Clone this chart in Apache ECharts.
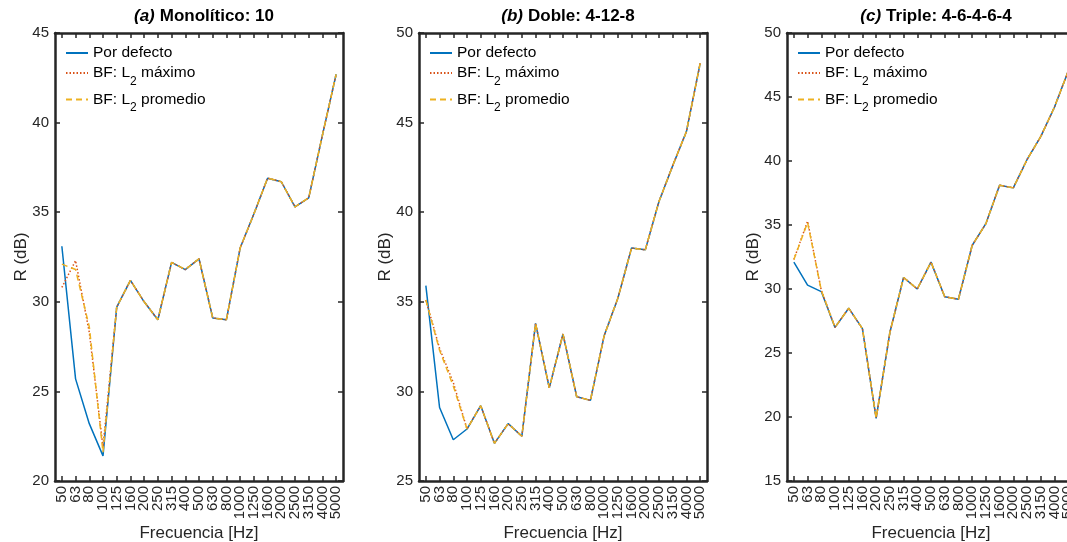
<!DOCTYPE html>
<html><head><meta charset="utf-8">
<script src="https://cdn.jsdelivr.net/npm/echarts@6/dist/echarts.min.js"></script>
<style>html,body{margin:0;padding:0;background:#fff}#c{width:1067px;height:542px}</style>
</head><body><div id="c"></div>
<script>
// ---- data ----
const freqLabels = ['50','63','80','100','125','160','200','250','315','400','500','630','800','1000','1250','1600','2000','2500','3150','4000','5000'];
const seriesNames = ['Por defecto', 'BF: L2 máximo', 'BF: L2 promedio'];

const monoDefecto = [33.1, 25.7, 23.2, 21.4, 29.7, 31.2, 30.0, 29.0, 32.2, 31.8, 32.4, 29.1, 29.0, 33.0, 34.9, 36.9, 36.7, 35.3, 35.8, 39.3, 42.7];
const monoMaximo  = [30.8, 32.3, 28.3, 21.9, 29.7, 31.2, 30.0, 29.0, 32.2, 31.8, 32.4, 29.1, 29.0, 33.0, 34.9, 36.9, 36.7, 35.3, 35.8, 39.3, 42.7];
const monoPromedio= [32.1, 31.8, 28.6, 21.6, 29.7, 31.2, 30.0, 29.0, 32.2, 31.8, 32.4, 29.1, 29.0, 33.0, 34.9, 36.9, 36.7, 35.3, 35.8, 39.3, 42.7];

const dobleDefecto = [35.9, 29.1, 27.3, 27.9, 29.2, 27.1, 28.2, 27.5, 33.8, 30.2, 33.2, 29.7, 29.5, 33.1, 35.2, 38.0, 37.9, 40.6, 42.6, 44.5, 48.3];
const dobleMaximo  = [35.1, 32.4, 30.5, 27.9, 29.2, 27.1, 28.2, 27.5, 33.8, 30.2, 33.2, 29.7, 29.5, 33.1, 35.2, 38.0, 37.9, 40.6, 42.6, 44.5, 48.3];
const doblePromedio= [35.1, 32.3, 30.3, 27.9, 29.2, 27.1, 28.2, 27.5, 33.8, 30.2, 33.2, 29.7, 29.5, 33.1, 35.2, 38.0, 37.9, 40.6, 42.6, 44.5, 48.3];

const tripleDefecto = [32.1, 30.3, 29.8, 27.0, 28.5, 26.9, 19.9, 26.6, 30.9, 30.0, 32.1, 29.4, 29.2, 33.4, 35.1, 38.1, 37.9, 40.1, 41.9, 44.2, 47.0];
const tripleMaximo  = [32.3, 35.3, 29.9, 27.0, 28.5, 26.9, 19.9, 26.6, 30.9, 30.0, 32.1, 29.4, 29.2, 33.4, 35.1, 38.1, 37.9, 40.1, 41.9, 44.2, 47.0];
const triplePromedio= [32.3, 35.2, 29.9, 27.0, 28.5, 26.9, 19.9, 26.6, 30.9, 30.0, 32.1, 29.4, 29.2, 33.4, 35.1, 38.1, 37.9, 40.1, 41.9, 44.2, 47.0];

const panelTitles = [['(a)', 'Monolítico: 10'], ['(b)', 'Doble: 4-12-8'], ['(c)', 'Triple: 4-6-4-6-4']];
const panelYMin = [20, 25, 15];
const panelYMax = [45, 50, 50];
const panelData = [
  [monoDefecto, monoMaximo, monoPromedio],
  [dobleDefecto, dobleMaximo, doblePromedio],
  [tripleDefecto, tripleMaximo, triplePromedio]
];

// ---- layout / style ----
const gridLeft = [55, 419, 787];
const gridW = 288, gridTop = 33, gridH = 448;
const FONT = '"Liberation Sans", Arial, Helvetica, sans-serif';
const AX = '#262626';
const colors = ['#0072BD', '#D95319', '#EDB120'];
const lineTypes = ['solid', [1.5, 2], [6, 4]];

const grids = [], xAxes = [], yAxes = [], series = [], legends = [], titles = [];
panelData.forEach((set, p) => {
  grids.push({left: gridLeft[p], top: gridTop, width: gridW, height: gridH, containLabel: false, outerBoundsMode: 'none'});
  const axLine = {show: true, onZero: false, lineStyle: {color: AX, width: 2.5}};
  const tick = {show: true, inside: true, length: 5, interval: 0, alignWithLabel: true, lineStyle: {color: AX, width: 1.5}};
  xAxes.push({
    gridIndex: p, type: 'category', position: 'bottom', data: freqLabels, boundaryGap: true,
    axisLine: axLine, axisTick: tick, splitLine: {show: false},
    axisLabel: {show: true, interval: 0, rotate: 90, margin: 5, color: AX, fontFamily: FONT, fontSize: 15,
      hideOverlap: false},
    name: 'Frecuencia [Hz]', nameLocation: 'middle', nameGap: 44, nameMoveOverlap: false,
    nameTextStyle: {color: AX, fontFamily: FONT, fontSize: 17}
  });
  xAxes.push({
    gridIndex: p, type: 'category', position: 'top', data: freqLabels, boundaryGap: true,
    axisLine: axLine, axisTick: tick, splitLine: {show: false}, axisLabel: {show: false}
  });
  const ytick = {show: true, inside: true, length: 5, lineStyle: {color: AX, width: 1.5}};
  yAxes.push({
    gridIndex: p, type: 'value', position: 'left', min: panelYMin[p], max: panelYMax[p], interval: 5,
    axisLine: axLine, axisTick: ytick, splitLine: {show: false},
    axisLabel: {color: AX, fontFamily: FONT, fontSize: 15, margin: 6},
    name: 'R (dB)', nameLocation: 'middle', nameGap: 25, nameMoveOverlap: false,
    nameTextStyle: {color: AX, fontFamily: FONT, fontSize: 17}
  });
  yAxes.push({
    gridIndex: p, type: 'value', position: 'right', min: panelYMin[p], max: panelYMax[p], interval: 5,
    axisLine: axLine, axisTick: ytick, splitLine: {show: false}, axisLabel: {show: false}
  });
  set.forEach((vals, s) => {
    series.push({
      name: seriesNames[s], type: 'line', xAxisIndex: p * 2, yAxisIndex: p * 2,
      data: vals,
      symbol: 'none', showSymbol: false, z: 2 + s,
      lineStyle: {color: colors[s], width: 1.5, type: lineTypes[s]},
      itemStyle: {color: colors[s]}
    });
  });
  legends.push({
    data: seriesNames, orient: 'vertical', left: gridLeft[p] + 5, top: 40,
    itemWidth: 22, itemHeight: 12, itemGap: 4, selectedMode: false,
    itemStyle: {opacity: 0},
    formatter: n => n.replace('L2', 'L{s|2}'),
    textStyle: {color: '#000', fontFamily: FONT, fontSize: 15.5,
      rich: {s: {fontSize: 12, fontFamily: FONT, color: '#000', padding: [17, 0, 0, 0]}}}
  });
  titles.push({
    text: '{i|' + panelTitles[p][0] + '} {b|' + panelTitles[p][1] + '}',
    left: gridLeft[p] + gridW / 2, top: 2, textAlign: 'center',
    textStyle: {rich: {
      i: {fontFamily: FONT, fontSize: 17, fontWeight: 'bold', fontStyle: 'italic', color: '#000'},
      b: {fontFamily: FONT, fontSize: 17, fontWeight: 'bold', color: '#000'}
    }}
  });
});

const chart = echarts.init(document.getElementById('c'), null, {renderer: 'canvas'});
chart.setOption({
  animation: false, backgroundColor: '#fff',
  title: titles, grid: grids, xAxis: xAxes, yAxis: yAxes, series: series, legend: legends
});
</script></body></html>
